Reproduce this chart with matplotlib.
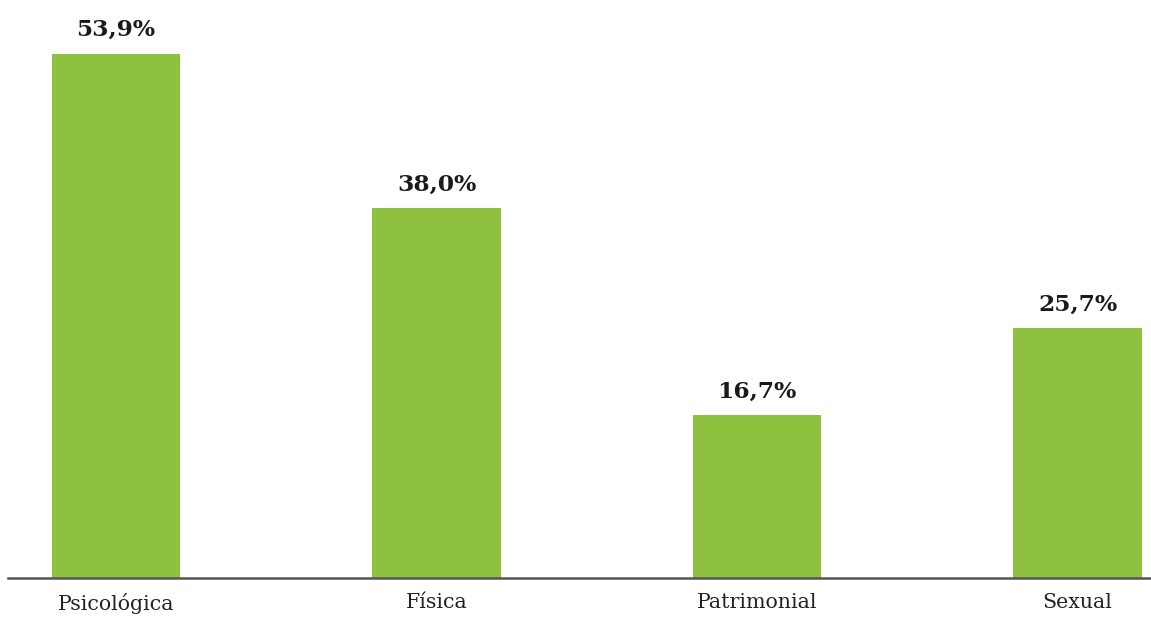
import matplotlib
matplotlib.use("Agg")
import matplotlib.pyplot as plt

categories = ["Psicológica", "Física", "Patrimonial", "Sexual"]
values = [53.9, 38.0, 16.7, 25.7]
value_labels = ["53,9%", "38,0%", "16,7%", "25,7%"]

W, H = 1151, 617
fig = plt.figure(figsize=(W / 100, H / 100), dpi=100)
ax = fig.add_axes([8 / W, 39 / H, 1143 / W, 578 / H])

x = list(range(len(categories)))
ax.bar(x, values, width=0.4, color="#8DC13F", zorder=2)
ax.set_xlim(-0.337, 3.229)
ax.set_ylim(0, 59.4)

for xi, v, lab in zip(x, values, value_labels):
    ax.annotate(lab, (xi, v), xytext=(0, 12.5), textcoords="offset points",
                ha="center", va="baseline", fontsize=16.8, fontweight="bold",
                family="DejaVu Serif", color="#1a1a1a")

for s in ["top", "right", "left"]:
    ax.spines[s].set_visible(False)
ax.spines["bottom"].set_color("#555555")
ax.spines["bottom"].set_linewidth(1.8)
ax.set_yticks([])
ax.set_xticks(x)
ax.set_xticklabels(categories, family="DejaVu Serif", fontsize=14.8, color="#222222")
ax.tick_params(axis="x", length=0, pad=11)

fig.savefig("out.png", dpi=100)
